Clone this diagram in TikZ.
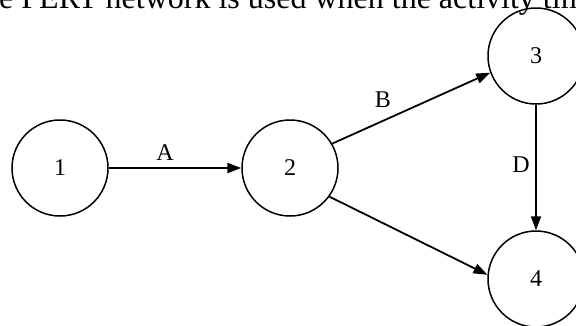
\documentclass[tikz,border=0pt]{standalone}
\usepackage{fontspec}
\setmainfont{Liberation Serif}
\usetikzlibrary{arrows.meta}
\begin{document}
\begin{tikzpicture}[x=1pt,y=-1pt,
  event/.style={circle,draw,line width=1.5pt,minimum size=96pt,inner sep=0pt,font=\fontsize{24}{26}\selectfont},
  act/.style={line width=1.8pt,-{Triangle[length=14pt,width=10pt]}},
  lbl/.style={font=\fontsize{24}{26}\selectfont,inner sep=0pt}]
\useasboundingbox (0,0) rectangle (576,325);
\clip (0,0) rectangle (576,325);
\node[anchor=base west,inner sep=0pt,font=\fontsize{32}{36}\selectfont] (title) at (-1,8) {e PERT network is used when the activity tim};
\node[event] (n1) at (60,168) {1};
\node[event] (n2) at (290,168) {2};
\node[event] (n3) at (536,56) {3};
\node[event] (n4) at (536,279) {4};
\draw[act,line width=2.3pt] (n1) -- (n2);
\draw[act] (n2.30) -- (n3.200);
\draw[act] (n2.-36) -- (n4.175);
\draw[act] (n3) -- (n4);
\node[lbl] (la) at (165,153) {A};
\node[lbl] (lb) at (383,100) {B};
\node[lbl] (ld) at (521,165) {D};
\end{tikzpicture}
\end{document}
